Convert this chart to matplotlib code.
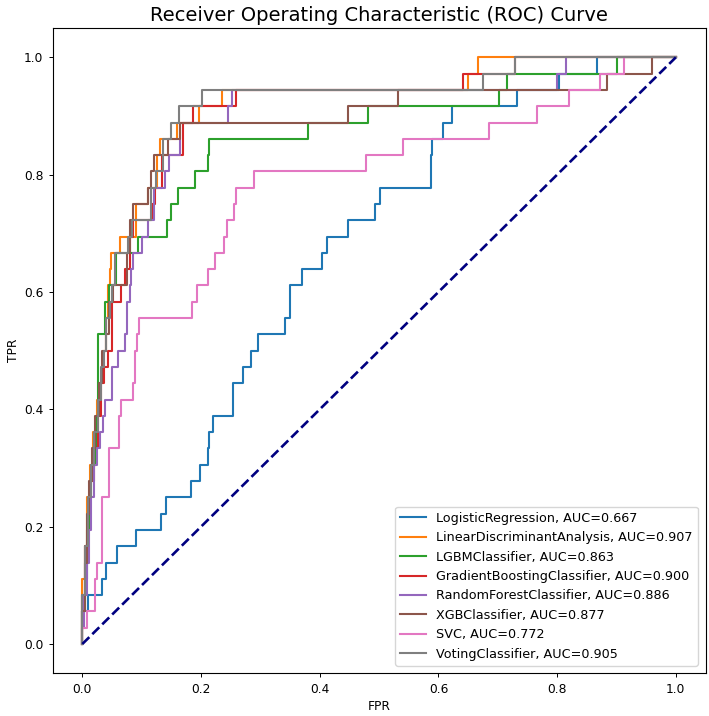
import matplotlib
matplotlib.use("Agg")
import matplotlib.pyplot as plt
import numpy as np

N_POS = 36

models = ["LogisticRegression", "LinearDiscriminantAnalysis", "LGBMClassifier",
          "GradientBoostingClassifier", "RandomForestClassifier", "XGBClassifier",
          "SVC", "VotingClassifier"]
auc_values = ["0.667", "0.907", "0.863", "0.900", "0.886", "0.877", "0.772", "0.905"]
colors = ["#1f77b4", "#ff7f0e", "#2ca02c", "#d62728", "#9467bd", "#8c564b",
          "#e377c2", "#7f7f7f"]

# ROC step points: FPR where the curve rises, and the true-positive count after the rise
lr_fpr = [0, 0, 0.009, 0.033, 0.040, 0.058, 0.0905, 0.1326, 0.1405, 0.1832, 0.1983,
          0.2113, 0.214, 0.2208, 0.2534, 0.2545, 0.2713, 0.2837, 0.2966, 0.3415, 0.35,
          0.3707, 0.4033, 0.4128, 0.4471, 0.4932, 0.5016, 0.587, 0.5898, 0.6072, 0.6224,
          0.7319, 0.8032, 0.8667, 1.0]
lr_tp = [0, 2, 3, 4, 5, 6, 7, 8, 9, 10, 11, 12, 13, 14, 15, 16, 17, 18, 19, 20, 22,
         23, 24, 25, 26, 27, 28, 30, 31, 32, 33, 34, 35, 36, 36]

lda_fpr = [0, 0, 0.004, 0.008, 0.013, 0.018, 0.024, 0.030, 0.034, 0.040, 0.044, 0.0461,
           0.0489, 0.0635, 0.0905, 0.1113, 0.1253, 0.1309, 0.159, 0.1966, 0.2359, 0.650,
           0.667, 1.0]
lda_tp = [0, 4, 6, 9, 11, 13, 15, 16, 18, 20, 22, 23, 24, 25, 27, 28, 30, 31, 32, 33,
          34, 35, 36, 36]

lgbm_fpr = [0, 0, 0.005, 0.008, 0.012, 0.015, 0.0236, 0.0265, 0.038, 0.045, 0.056,
            0.0944, 0.1432, 0.1489, 0.1607, 0.1899, 0.2113, 0.214, 0.3808, 0.4819,
            0.7026, 0.715, 0.9014, 1.0]
lgbm_tp = [0, 2, 4, 7, 9, 11, 14, 19, 21, 22, 24, 25, 26, 27, 28, 29, 30, 31, 32, 33,
           34, 35, 36, 36]

gb_fpr = [0, 0, 0.005, 0.009, 0.013, 0.020, 0.026, 0.031, 0.036, 0.043, 0.050, 0.065,
          0.072, 0.080, 0.086, 0.1169, 0.1225, 0.1337, 0.169, 0.187, 0.259, 0.641,
          0.729, 1.0]
gb_tp = [0, 3, 6, 8, 10, 12, 14, 16, 17, 18, 21, 22, 23, 25, 26, 27, 28, 30, 32, 33,
         34, 35, 36, 36]

rf_fpr = [0, 0, 0.003, 0.007, 0.011, 0.015, 0.020, 0.025, 0.029, 0.034, 0.038, 0.0494,
          0.0607, 0.072, 0.0759, 0.0798, 0.0826, 0.0854, 0.100, 0.1113, 0.1208, 0.1394,
          0.1467, 0.1646, 0.245, 0.2517, 0.799, 0.815, 1.0]
rf_tp = [0, 1, 3, 5, 7, 9, 11, 12, 13, 14, 15, 17, 18, 19, 21, 22, 23, 24, 25, 26, 28,
         29, 30, 32, 33, 34, 35, 36, 36]

xgb_fpr = [0, 0, 0.004, 0.008, 0.012, 0.017, 0.022, 0.028, 0.033, 0.040, 0.045, 0.052,
           0.0759, 0.0804, 0.0849, 0.1101, 0.1158, 0.1208, 0.1450, 0.1646, 0.4471,
           0.5325, 0.8846, 0.959, 1.0]
xgb_tp = [0, 2, 5, 8, 10, 12, 14, 16, 18, 19, 21, 22, 24, 26, 27, 28, 29, 30, 31, 32,
          33, 34, 35, 36, 36]

svc_fpr = [0, 0, 0.007, 0.021, 0.025, 0.033, 0.0455, 0.0623, 0.0647, 0.086, 0.0883,
           0.0927, 0.096, 0.1843, 0.1927, 0.2123, 0.2236, 0.2388, 0.2433, 0.2556,
           0.2584, 0.2893, 0.4775, 0.5398, 0.6853, 0.7667, 0.82, 0.8723, 0.9133, 1.0]
svc_tp = [0, 1, 2, 4, 5, 9, 12, 14, 15, 16, 18, 19, 20, 21, 22, 23, 24, 25, 26, 27,
          28, 29, 30, 31, 32, 33, 34, 35, 36, 36]

vote_fpr = [0, 0, 0.005, 0.010, 0.015, 0.020, 0.026, 0.031, 0.036, 0.040, 0.046, 0.050,
            0.0545, 0.0775, 0.0832, 0.1152, 0.1242, 0.1365, 0.1489, 0.163, 0.2022,
            0.6757, 0.729, 1.0]
vote_tp = [0, 3, 6, 9, 11, 13, 15, 17, 18, 20, 21, 22, 24, 25, 26, 28, 29, 31, 32, 33,
           34, 35, 36, 36]

curves = [(lr_fpr, lr_tp), (lda_fpr, lda_tp), (lgbm_fpr, lgbm_tp), (gb_fpr, gb_tp),
          (rf_fpr, rf_tp), (xgb_fpr, xgb_tp), (svc_fpr, svc_tp), (vote_fpr, vote_tp)]

fig = plt.figure(figsize=(7.09, 7.16), dpi=100)
ax = fig.add_axes([0.0743, 0.0596, 0.9208, 0.9013])

for name, auc, col, (f, tp) in zip(models, auc_values, colors, curves):
    tpr = np.array(tp) / N_POS
    ax.plot(f, tpr, drawstyle="steps-post", color=col, lw=1.5,
            label=f"{name}, AUC={auc}")

ax.plot([0, 1], [0, 1], color="navy", lw=1.9, linestyle="--")

ax.set_xlim(-0.05, 1.05)
ax.set_ylim(-0.05, 1.05)
ax.set_xticks([0.0, 0.2, 0.4, 0.6, 0.8, 1.0])
ax.set_yticks([0.0, 0.2, 0.4, 0.6, 0.8, 1.0])
ax.tick_params(labelsize=8.8, length=3.2, width=0.7)
for s in ax.spines.values():
    s.set_linewidth(0.8)
ax.set_xlabel("FPR", fontsize=8.8, labelpad=3)
ax.set_ylabel("TPR", fontsize=8.8, labelpad=3)
ax.set_title("Receiver Operating Characteristic (ROC) Curve", fontsize=14, pad=5)
ax.legend(loc="lower right", fontsize=9.2, borderaxespad=0.6)

fig.savefig("out.png", dpi=100)
